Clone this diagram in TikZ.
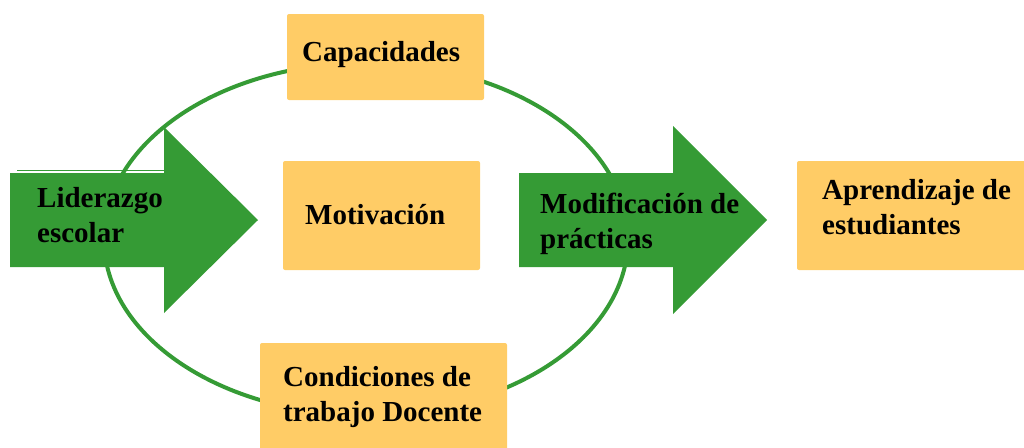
\documentclass[tikz,border=0pt]{standalone}
\usepackage{fontspec}
\setmainfont{Liberation Serif}
\definecolor{hojaverde}{RGB}{53,155,53}
\definecolor{cajanaranja}{RGB}{255,204,102}
\tikzset{
    ring/.style={draw=hojaverde,line width=4pt},
    flecha/.style={fill=hojaverde},
    caja/.style={fill=cajanaranja,rounded corners=2pt},
    rotulo/.style={anchor=base west,inner sep=0pt,align=left,
        font=\bfseries\fontsize{29}{35}\selectfont}
}
\begin{document}
\begin{tikzpicture}[x=1pt,y=-1pt]
    \useasboundingbox (0,0) rectangle (1024,447);
    %% Ciclo
    \draw[ring] (366,239) ellipse [x radius=262, y radius=176];
    %% Flecha izquierda
    \draw[hojaverde,line width=1pt] (17,170.5) -- (164,170.5);
    \fill[flecha] (10,173) -- (164,173) -- (164,127) -- (258,220)
        -- (164,313) -- (164,267) -- (10,267) -- cycle;
    \node[rotulo] (lider) at (37,242) {Liderazgo\\escolar};
    %% Flecha derecha
    \fill[flecha] (519,173) -- (673,173) -- (673,126) -- (767,220)
        -- (673,314) -- (673,267) -- (519,267) -- cycle;
    \node[rotulo] (modif) at (540,248) {Modificación de\\prácticas};
    %% Cajas
    \fill[caja] (287,14) rectangle (484,100);
    \node[rotulo] (capac) at (302,61) {Capacidades};
    \fill[caja] (283,161) rectangle (480,270);
    \node[rotulo] (motiv) at (305,224) {Motivación};
    \fill[caja] (260,343) rectangle (507,452);
    \node[rotulo] (condic) at (283,421) {Condiciones de\\trabajo Docente};
    \fill[caja] (797,161) rectangle (1030,270);
    \node[rotulo] (aprend) at (822,234) {Aprendizaje de\\estudiantes};
\end{tikzpicture}
\end{document}
